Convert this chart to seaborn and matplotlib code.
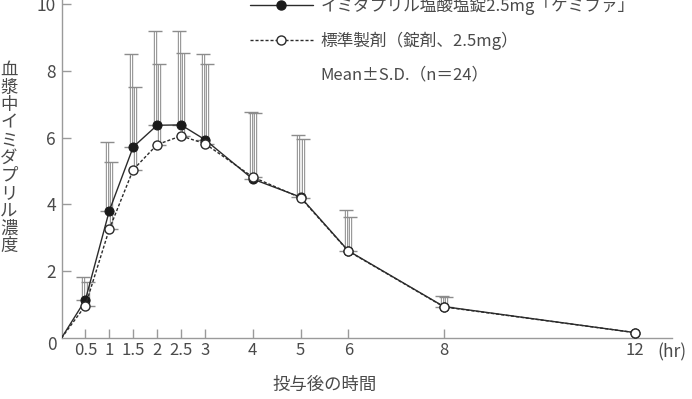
import numpy as np
import pandas as pd
import matplotlib
matplotlib.use("Agg")
import matplotlib.pyplot as plt
from matplotlib.lines import Line2D
import seaborn as sns

# Sampling times (hr) and plasma imidapril concentrations (mean, upper S.D.)
time_hr = [0, 0.5, 1, 1.5, 2, 2.5, 3, 4, 5, 6, 8, 12]
test_mean = [0, 1.14, 3.81, 5.72, 6.37, 6.38, 5.94, 4.76, 4.22, 2.61, 0.94, 0.16]
test_sd = [0, 0.70, 2.05, 2.78, 2.83, 2.82, 2.56, 2.02, 1.87, 1.23, 0.33, 0]
ref_mean = [0, 0.97, 3.26, 5.04, 5.79, 6.05, 5.82, 4.82, 4.20, 2.60, 0.93, 0.16]
ref_sd = [0, 0.72, 2.02, 2.49, 2.42, 2.48, 2.37, 1.93, 1.77, 1.01, 0.30, 0]

x_ticks = [0.5, 1, 1.5, 2, 2.5, 3, 4, 5, 6, 8, 12]
x_tick_labels = ["0.5", "1", "1.5", "2", "2.5", "3", "4", "5", "6", "8", "12"]
y_ticks = [2, 4, 6, 8, 10]

label_test = "イミダプリル塩酸塩錠2.5mg「ケミファ」"
label_ref = "標準製剤（錠剤、2.5mg）"
label_stat = "Mean±S.D.（n＝24）"
x_title = "投与後の時間"
y_title = "血漿中イミダプリル濃度"

sns.set_theme(style="ticks")
plt.rcParams["font.family"] = ["Noto Sans CJK JP", "DejaVu Sans"]

W, H = 692, 399
fig = plt.figure(figsize=(W / 100, H / 100), dpi=100)
ax = fig.add_axes([61.5 / W, 61 / H, 610 / W, 338 / H])

df = pd.DataFrame({"time": time_hr, "test": test_mean, "test_sd": test_sd,
                   "ref": ref_mean, "ref_sd": ref_sd})

line_col = "#2b2b2b"
bar_col = "#8c8c8c"
text_col = "#4a4a4a"


def sd_bars(x, mean, sd, shift):
    m = df[sd] > 0
    xs = df.loc[m, x] + shift
    ys = df.loc[m, mean]
    up = df.loc[m, sd]
    lo = np.zeros(len(up))
    # hollow bar: grey outer stroke with a white core, then the caps
    ax.errorbar(xs, ys, yerr=[lo, up], fmt="none", ecolor=bar_col,
                elinewidth=2.4, capsize=0, zorder=2)
    ax.errorbar(xs, ys, yerr=[lo, up], fmt="none", ecolor="white",
                elinewidth=0.9, capsize=0, zorder=2.1)
    ax.errorbar(xs, ys, yerr=[lo, up], fmt="none", ecolor=bar_col,
                elinewidth=0, capsize=5, capthick=1.0, zorder=2.2)


sd_bars("time", "test", "test_sd", -0.045)
sd_bars("time", "ref", "ref_sd", 0.045)

sns.lineplot(data=df, x="time", y="test", ax=ax, color=line_col,
             linewidth=1.0, marker="o", markersize=6.5,
             markerfacecolor="#1a1a1a", markeredgecolor="#1a1a1a",
             markevery=slice(1, None), zorder=3)
sns.lineplot(data=df, x="time", y="ref", ax=ax, color=line_col,
             linewidth=1.0, linestyle=(0, (2.2, 1.4)), marker="o",
             markersize=6.5, markerfacecolor="white",
             markeredgecolor=line_col, markeredgewidth=1.0,
             markevery=slice(1, None), zorder=4)

ax.set_xlim(0, 12.76)
ax.set_ylim(0, 10.12)
ax.set_xticks(x_ticks)
ax.set_xticklabels(x_tick_labels)
ax.set_yticks(y_ticks)
ax.set_xlabel("")
ax.set_ylabel("")

for side in ["top", "right"]:
    ax.spines[side].set_visible(False)
for side in ["left", "bottom"]:
    ax.spines[side].set_color("#9a9a9a")
    ax.spines[side].set_linewidth(1.0)

ax.tick_params(axis="both", direction="in", length=6.5, width=1.0,
               color="#9a9a9a", labelcolor=text_col)
ax.tick_params(axis="y", labelsize=12.5, pad=4)
ax.tick_params(axis="x", labelsize=12, pad=3)

# shared origin label
fig.text(52 / W, 1 - 345 / H, "0", fontsize=12.5, color=text_col,
         ha="center", va="center")
fig.text(657 / W, 1 - 352 / H, "(hr)", fontsize=12.5, color=text_col,
         ha="left", va="center")
fig.text(325 / W, 1 - 385 / H, x_title, fontsize=12.5, color=text_col,
         ha="center", va="center")
fig.text(9 / W, 1 - 158 / H, "\n".join(y_title), fontsize=12.5,
         color=text_col, ha="center", va="center", linespacing=0.97)

handles = [
    Line2D([], [], color=line_col, lw=1.0, marker="o", markersize=6.5,
           markerfacecolor="#1a1a1a", markeredgecolor="#1a1a1a"),
    Line2D([], [], color=line_col, lw=1.0, linestyle=(0, (2.2, 1.4)),
           marker="o", markersize=6.5, markerfacecolor="white",
           markeredgecolor=line_col),
    Line2D([], [], linestyle="none", marker=None),
]
leg = fig.legend(handles, [label_test, label_ref, label_stat],
                 loc="center left", bbox_to_anchor=(250 / W, 1 - 40 / H),
                 frameon=False, fontsize=12, handlelength=3.75,
                 handletextpad=0.5, labelspacing=1.0, borderpad=0,
                 borderaxespad=0, numpoints=1)
for t in leg.get_texts():
    t.set_color(text_col)

fig.savefig("out.png", dpi=100)
